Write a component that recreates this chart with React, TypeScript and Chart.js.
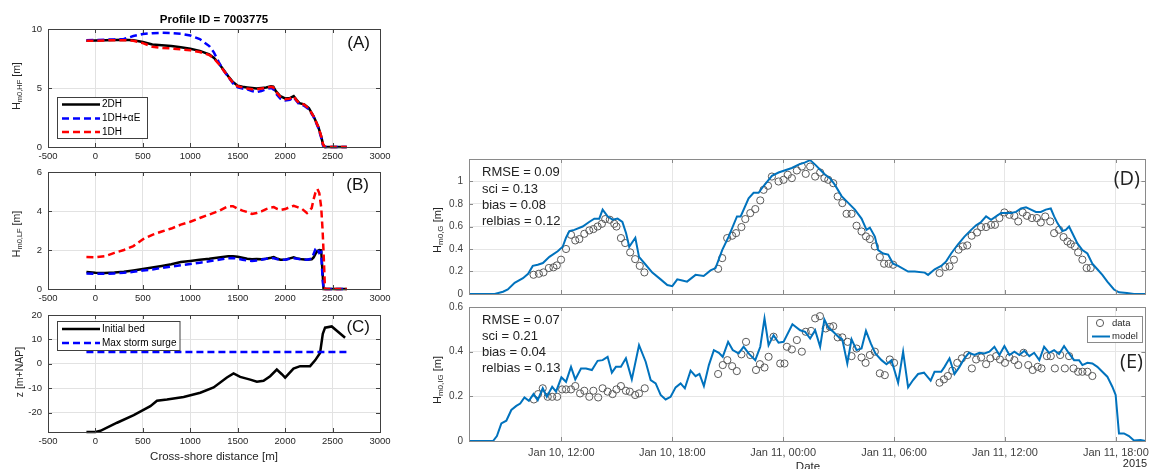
import React, { useEffect, useRef } from 'react';
import { Chart, registerables } from 'chart.js';

Chart.register(...registerables);

const FONT = '"Liberation Sans", Arial, Helvetica, sans-serif';
Chart.defaults.font.family = FONT;

// ---------------- Panel A: Hm0,HF vs cross-shore distance ----------------
const distA = [-95, 0, 100, 200, 300, 400, 500, 600, 700, 800, 900, 1000, 1100, 1200, 1250, 1300, 1350, 1400, 1450, 1500, 1550, 1600, 1650, 1700, 1750, 1800, 1850, 1875, 1900, 1950, 2000, 2050, 2090, 2120, 2150, 2200, 2250, 2300, 2350, 2380, 2400, 2420, 2500, 2650];
const hf2DH = [9.0, 9.02, 9.05, 9.07, 9.08, 9.05, 8.9, 8.68, 8.62, 8.55, 8.45, 8.33, 8.15, 7.85, 7.55, 7.1, 6.55, 6.0, 5.5, 5.2, 5.1, 5.05, 5.0, 4.95, 5.0, 5.05, 5.15, 5.12, 4.75, 4.3, 4.12, 4.15, 4.32, 4.0, 3.72, 3.62, 3.3, 2.6, 1.7, 0.9, 0.2, 0, 0, 0];
const hf1DHaE = [9.05, 9.07, 9.1, 9.12, 9.15, 9.4, 9.58, 9.65, 9.68, 9.66, 9.6, 9.45, 9.15, 8.55, 8.0, 7.2, 6.5, 5.95, 5.4, 5.05, 4.95, 4.9, 4.75, 4.65, 4.75, 4.9, 5.0, 4.9, 4.55, 4.1, 3.95, 4.0, 4.2, 3.9, 3.6, 3.5, 3.2, 2.55, 1.6, 0.8, 0.1, 0, 0, 0];
const hf1DH = [9.0, 9.0, 9.03, 9.05, 9.05, 9.0, 8.8, 8.5, 8.4, 8.35, 8.28, 8.2, 8.05, 7.8, 7.5, 7.05, 6.5, 5.95, 5.45, 5.15, 5.05, 4.95, 4.9, 4.88, 4.95, 5.0, 5.1, 5.05, 4.7, 4.25, 4.05, 4.1, 4.3, 3.95, 3.7, 3.6, 3.25, 2.6, 1.7, 0.9, 0.2, 0, 0, 0];

// ---------------- Panel B: Hm0,LF ----------------
const distB = [-95, 0, 100, 200, 300, 400, 500, 600, 700, 800, 900, 1000, 1100, 1200, 1300, 1400, 1450, 1500, 1550, 1600, 1650, 1700, 1750, 1800, 1850, 1880, 1920, 1950, 2000, 2050, 2090, 2130, 2180, 2230, 2280, 2300, 2320, 2340, 2360, 2380, 2395, 2405, 2420, 2500, 2650];
const lf2DH = [0.87, 0.83, 0.82, 0.84, 0.88, 0.95, 1.03, 1.1, 1.18, 1.27, 1.38, 1.44, 1.5, 1.55, 1.62, 1.68, 1.68, 1.65, 1.6, 1.55, 1.52, 1.54, 1.53, 1.55, 1.6, 1.64, 1.55, 1.5, 1.5, 1.57, 1.62, 1.56, 1.52, 1.5, 1.52, 1.62, 1.8, 1.95, 2.0, 1.98, 0.8, 0, 0, 0, 0];
const lf1DHaE = [0.79, 0.78, 0.78, 0.8, 0.83, 0.88, 0.95, 1.0, 1.08, 1.15, 1.22, 1.28, 1.35, 1.42, 1.5, 1.58, 1.59, 1.55, 1.5, 1.47, 1.44, 1.46, 1.5, 1.55, 1.58, 1.58, 1.52, 1.5, 1.5, 1.55, 1.58, 1.55, 1.52, 1.5, 1.55, 1.8, 2.05, 2.1, 1.85, 1.9, 0.5, 0, 0, 0, 0];
const lf1DH = [1.64, 1.63, 1.68, 1.85, 2.0, 2.2, 2.55, 2.78, 2.95, 3.1, 3.3, 3.45, 3.64, 3.82, 4.0, 4.25, 4.25, 4.12, 4.02, 3.95, 3.85, 3.9, 3.98, 4.1, 4.18, 4.2, 4.1, 4.05, 4.1, 4.2, 4.27, 4.2, 4.1, 3.9, 4.15, 4.6, 4.95, 5.13, 4.92, 4.2, 3.0, 1.9, 0, 0, 0];

// ---------------- Panel C: bed level ----------------
const distBed = [-95, 0, 53, 228, 404, 579, 649, 754, 930, 1105, 1246, 1386, 1456, 1526, 1632, 1702, 1772, 1842, 1912, 1965, 2000, 2088, 2158, 2263, 2316, 2368, 2397, 2421, 2491, 2632];
const zBed = [-28.0, -28.0, -27.5, -24.2, -21.1, -17.4, -15.2, -14.7, -13.6, -11.9, -9.75, -5.66, -4.0, -5.4, -6.5, -7.4, -7.0, -5.1, -2.4, -4.3, -5.7, -2.0, -1.0, -1.0, 1.4, 4.4, 12.3, 14.8, 15.3, 10.7];
const distSurge = [-95, 2650];
const zSurge = [4.8, 4.8];

const distTicks = [-500, 0, 500, 1000, 1500, 2000, 2500, 3000];
const ticksA = [0, 5, 10];
const ticksB = [0, 2, 4, 6];
const ticksC = [-20, -10, 0, 10, 20];

// ---------------- Panel D: Hm0,G time series (hours since Jan 10 00:00) ----------------
const modelTimeD = [7.0, 8.39, 8.84, 9.1, 9.47, 9.92, 10.2, 10.45, 10.72, 11.0, 11.35, 11.8, 12.07, 12.25, 12.43, 12.7, 13.15, 13.5, 13.78, 14.05, 14.23, 14.5, 14.77, 15.04, 15.3, 15.5, 15.67, 16.0, 16.2, 16.56, 16.92, 17.37, 17.73, 18.0, 18.27, 18.54, 18.8, 19.26, 19.7, 20.07, 20.34, 20.7, 21.05, 21.5, 21.7, 22.13, 22.4, 22.67, 22.94, 23.39, 23.75, 24.11, 24.47, 24.83, 25.19, 25.46, 25.73, 26.03, 26.27, 26.53, 26.8, 27.16, 27.52, 27.88, 28.24, 28.51, 28.69, 28.96, 29.14, 29.41, 29.68, 29.95, 30.22, 30.76, 31.12, 31.66, 31.84, 32.2, 32.55, 32.82, 33.09, 33.45, 33.81, 34.17, 34.44, 34.71, 34.98, 35.25, 35.52, 35.79, 36.06, 36.33, 36.6, 36.87, 37.14, 37.41, 37.67, 37.94, 38.21, 38.48, 38.66, 38.84, 39.11, 39.29, 39.47, 39.65, 39.92, 40.19, 40.46, 40.73, 41.0, 41.27, 41.54, 41.9, 42.17, 42.6, 42.98, 43.6];
const modelHsD = [0, 0, 0.02, 0.04, 0.1, 0.14, 0.18, 0.25, 0.26, 0.275, 0.33, 0.38, 0.42, 0.5, 0.56, 0.57, 0.6, 0.64, 0.67, 0.67, 0.75, 0.69, 0.66, 0.67, 0.64, 0.54, 0.42, 0.5, 0.33, 0.26, 0.19, 0.13, 0.08, 0.07, 0.13, 0.12, 0.11, 0.17, 0.16, 0.21, 0.23, 0.39, 0.51, 0.69, 0.69, 0.85, 0.9, 0.9, 0.96, 1.05, 1.08, 1.1, 1.12, 1.15, 1.17, 1.19, 1.15, 1.1, 1.06, 1.03, 0.97, 0.87, 0.81, 0.75, 0.67, 0.57, 0.59, 0.51, 0.39, 0.36, 0.35, 0.27, 0.25, 0.2, 0.2, 0.19, 0.17, 0.22, 0.25, 0.29, 0.36, 0.44, 0.51, 0.57, 0.61, 0.64, 0.69, 0.66, 0.69, 0.72, 0.72, 0.72, 0.73, 0.76, 0.77, 0.75, 0.73, 0.73, 0.75, 0.76, 0.69, 0.63, 0.56, 0.57, 0.6, 0.54, 0.45, 0.39, 0.36, 0.27, 0.22, 0.17, 0.11, 0.04, 0.015, 0.008, 0, 0];
const dataTimeD = [10.49, 10.78, 11.03, 11.32, 11.57, 11.75, 11.98, 12.25, 12.52, 12.75, 12.97, 13.24, 13.51, 13.73, 13.96, 14.19, 14.37, 14.62, 14.86, 14.98, 15.22, 15.45, 15.72, 15.99, 16.24, 16.49,
  20.48, 20.7, 20.97, 21.24, 21.45, 21.74, 21.95, 22.22, 22.49, 22.76, 22.94, 23.18, 23.39, 23.75, 24.02, 24.25, 24.47, 24.74, 25.01, 25.22, 25.46, 25.73, 26.0, 26.23, 26.44, 26.71, 26.95, 27.2, 27.43, 27.7, 27.97, 28.24, 28.48, 28.69, 28.96, 29.23, 29.46, 29.71, 29.95,
  32.46, 32.77, 33.0, 33.24, 33.49, 33.72, 33.96, 34.2, 34.49, 34.71, 34.98, 35.25, 35.46, 35.7, 35.97, 36.24, 36.51, 36.72, 36.96, 37.19, 37.46, 37.73, 37.94, 38.18, 38.45, 38.66, 38.93, 39.17, 39.38, 39.56, 39.78, 39.96, 40.19, 40.42, 40.64];
const dataHsD = [0.171, 0.18, 0.192, 0.231, 0.237, 0.254, 0.305, 0.4, 0.526, 0.476, 0.488, 0.535, 0.565, 0.577, 0.6, 0.624, 0.666, 0.66, 0.624, 0.6, 0.497, 0.453, 0.37, 0.31, 0.25, 0.192,
  0.224, 0.319, 0.497, 0.518, 0.541, 0.595, 0.666, 0.719, 0.755, 0.832, 0.926, 0.962, 1.044, 1.0, 1.015, 1.06, 1.03, 1.098, 1.133, 1.068, 1.133, 1.044, 1.08, 1.03, 1.015, 0.985, 0.867, 0.808, 0.713, 0.713, 0.607, 0.556, 0.512, 0.488, 0.423, 0.328, 0.269, 0.269, 0.26,
  0.186, 0.24, 0.245, 0.305, 0.394, 0.423, 0.432, 0.518, 0.547, 0.595, 0.595, 0.615, 0.615, 0.675, 0.725, 0.704, 0.695, 0.645, 0.725, 0.695, 0.675, 0.675, 0.636, 0.689, 0.645, 0.541, 0.571, 0.506, 0.467, 0.444, 0.423, 0.37, 0.305, 0.231, 0.231];

// ---------------- Panel E: Hm0,IG time series ----------------
const modelTimeE = [7.0, 8.3, 8.51, 8.75, 9.02, 9.29, 9.56, 9.77, 10.0, 10.24, 10.49, 10.72, 10.99, 11.21, 11.5, 11.71, 12.0, 12.25, 12.52, 12.75, 13.06, 13.33, 13.65, 13.96, 14.23, 14.5, 14.73, 14.95, 15.22, 15.49, 15.81, 16.2, 16.56, 16.83, 17.1, 17.37, 17.64, 17.91, 18.18, 18.45, 18.68, 18.99, 19.26, 19.47, 19.71, 19.98, 20.25, 20.52, 20.73, 21.02, 21.27, 21.59, 21.86, 22.13, 22.49, 22.76, 22.99, 23.21, 23.48, 23.75, 24.02, 24.5, 24.92, 25.19, 25.46, 25.73, 26.0, 26.23, 26.44, 26.71, 26.98, 27.2, 27.47, 27.7, 27.97, 28.24, 28.48, 28.74, 28.99, 29.32, 29.59, 29.86, 30.22, 30.49, 30.76, 31.03, 31.3, 31.62, 31.98, 32.19, 32.55, 32.73, 33.0, 33.27, 33.54, 33.81, 34.05, 34.35, 34.62, 34.89, 35.16, 35.43, 35.7, 35.97, 36.24, 36.51, 36.78, 37.05, 37.32, 37.58, 37.86, 38.12, 38.39, 38.66, 38.93, 39.2, 39.47, 39.74, 40.01, 40.19, 40.46, 40.73, 41.0, 41.27, 41.54, 41.81, 41.99, 42.17, 42.44, 42.71, 42.98, 43.34, 43.6];
const modelHsE = [0, 0, 0.022, 0.079, 0.091, 0.139, 0.157, 0.168, 0.195, 0.18, 0.21, 0.183, 0.236, 0.198, 0.243, 0.221, 0.285, 0.265, 0.332, 0.276, 0.325, 0.325, 0.318, 0.359, 0.362, 0.377, 0.306, 0.332, 0.332, 0.37, 0.276, 0.429, 0.355, 0.273, 0.258, 0.206, 0.186, 0.198, 0.24, 0.258, 0.236, 0.315, 0.29, 0.3, 0.246, 0.34, 0.407, 0.395, 0.377, 0.444, 0.407, 0.392, 0.422, 0.392, 0.362, 0.422, 0.549, 0.429, 0.474, 0.44, 0.444, 0.523, 0.496, 0.489, 0.459, 0.496, 0.422, 0.544, 0.508, 0.489, 0.467, 0.455, 0.347, 0.455, 0.407, 0.414, 0.493, 0.437, 0.392, 0.362, 0.344, 0.362, 0.261, 0.4, 0.24, 0.273, 0.3, 0.306, 0.27, 0.31, 0.31, 0.332, 0.37, 0.3, 0.332, 0.37, 0.395, 0.385, 0.395, 0.392, 0.4, 0.422, 0.385, 0.425, 0.385, 0.4, 0.385, 0.404, 0.38, 0.395, 0.362, 0.422, 0.395, 0.407, 0.389, 0.425, 0.392, 0.362, 0.362, 0.34, 0.35, 0.347, 0.332, 0.31, 0.288, 0.243, 0.206, 0.034, 0.034, 0.022, 0.002, 0.004, 0];
const dataTimeE = [10.51, 10.74, 10.99, 11.26, 11.5, 11.77, 12.04, 12.25, 12.52, 12.75, 13.01, 13.24, 13.51, 13.73, 13.99, 14.23, 14.5, 14.77, 14.98, 15.22, 15.49, 15.7, 15.99, 16.2, 16.51,
  20.48, 20.73, 20.98, 21.24, 21.49, 21.74, 21.99, 22.22, 22.53, 22.74, 22.99, 23.21, 23.48, 23.84, 24.07, 24.2, 24.47, 24.74, 25.01, 25.22, 25.51, 25.73, 25.99, 26.3, 26.53, 26.71, 26.95, 27.2, 27.49, 27.7, 27.97, 28.24, 28.46, 28.69, 28.96, 29.23, 29.5, 29.77, 30.0,
  32.46, 32.7, 32.91, 33.15, 33.42, 33.67, 33.96, 34.21, 34.44, 34.71, 34.98, 35.21, 35.52, 35.73, 36.0, 36.24, 36.51, 36.72, 37.01, 37.26, 37.5, 37.77, 37.98, 38.27, 38.48, 38.7, 38.99, 39.24, 39.47, 39.71, 39.96, 40.19, 40.46, 40.73];
const dataHsE = [0.186, 0.21, 0.236, 0.198, 0.198, 0.198, 0.231, 0.231, 0.231, 0.246, 0.213, 0.225, 0.198, 0.225, 0.195, 0.236, 0.221, 0.21, 0.231, 0.246, 0.225, 0.221, 0.206, 0.213, 0.236,
  0.3, 0.34, 0.362, 0.335, 0.313, 0.388, 0.444, 0.385, 0.318, 0.344, 0.329, 0.377, 0.467, 0.347, 0.347, 0.422, 0.41, 0.452, 0.4, 0.489, 0.493, 0.549, 0.559, 0.504, 0.511, 0.514, 0.464, 0.464, 0.444, 0.38, 0.414, 0.374, 0.35, 0.385, 0.4, 0.303, 0.295, 0.365, 0.35,
  0.261, 0.276, 0.291, 0.315, 0.35, 0.37, 0.385, 0.325, 0.365, 0.374, 0.344, 0.37, 0.38, 0.365, 0.35, 0.374, 0.362, 0.34, 0.395, 0.34, 0.318, 0.332, 0.325, 0.38, 0.38, 0.325, 0.385, 0.325, 0.38, 0.325, 0.31, 0.31, 0.31, 0.291];

const timeTicks = [12, 18, 24, 30, 36, 42];
const timeTickLabels = ['Jan 10, 12:00', 'Jan 10, 18:00', 'Jan 11, 00:00', 'Jan 11, 06:00', 'Jan 11, 12:00', 'Jan 11, 18:00'];
const ticksD = [0, 0.2, 0.4, 0.6, 0.8, 1];
const ticksE = [0, 0.2, 0.4, 0.6];
const statsD = ['RMSE = 0.09', 'sci = 0.13', 'bias = 0.08', 'relbias = 0.12'];
const statsE = ['RMSE = 0.07', 'sci = 0.21', 'bias = 0.04', 'relbias = 0.13'];

// ---------------- helpers ----------------
const pts = (xs: number[], ys: number[]) => xs.map((x, i) => ({ x, y: ys[i] }));

type Part = { t: string; font: string; dy?: number };

function drawRich(ctx: CanvasRenderingContext2D, x: number, y: number, parts: Part[], rotate: boolean, color = '#262626') {
  ctx.save();
  ctx.translate(x, y);
  if (rotate) ctx.rotate(-Math.PI / 2);
  ctx.textBaseline = 'middle';
  ctx.textAlign = 'left';
  ctx.fillStyle = color;
  let total = 0;
  for (const p of parts) { ctx.font = p.font; total += ctx.measureText(p.t).width; }
  let cx = -total / 2;
  for (const p of parts) {
    ctx.font = p.font;
    ctx.fillText(p.t, cx, p.dy || 0);
    cx += ctx.measureText(p.t).width;
  }
  ctx.restore();
}

function txt(ctx: CanvasRenderingContext2D, s: string, x: number, y: number, font: string, align: CanvasTextAlign = 'left', baseline: CanvasTextBaseline = 'middle', color = '#262626') {
  ctx.save();
  ctx.font = font;
  ctx.textAlign = align;
  ctx.textBaseline = baseline;
  ctx.fillStyle = color;
  ctx.fillText(s, x, y);
  ctx.restore();
}

function seg(ctx: CanvasRenderingContext2D, x1: number, y1: number, x2: number, y2: number, color: string, w: number, dash: number[] = []) {
  ctx.save();
  ctx.strokeStyle = color;
  ctx.lineWidth = w;
  ctx.setLineDash(dash);
  ctx.beginPath();
  ctx.moveTo(x1, y1);
  ctx.lineTo(x2, y2);
  ctx.stroke();
  ctx.restore();
}

function legendBox(ctx: CanvasRenderingContext2D, x: number, y: number, w: number, h: number, color: string) {
  ctx.save();
  ctx.fillStyle = '#ffffff';
  ctx.fillRect(x, y, w, h);
  ctx.strokeStyle = color;
  ctx.lineWidth = 1;
  ctx.strokeRect(x, y, w, h);
  ctx.restore();
}

interface Spec {
  L: number; T: number; R: number; B: number;
  pt: number; pr: number; yw: number; xh: number;
  xMin: number; xMax: number; xTicks: number[]; xLabel: (v: number) => string | string[];
  showXLabels: boolean; xFont: number; xPad: number;
  yMin: number; yMax: number; yTicks: number[]; yFont: number; yPad: number;
  axisColor: string; tickColor: string; gridColor: string; tickLen: number;
  datasets: any[];
  deco: (ctx: CanvasRenderingContext2D) => void;
}

const BLUE = '#0000ff';
const RED = '#ff0000';
const MODEL = '#0072BD';
const DASH = [7, 4];

const lineDs = (xs: number[], ys: number[], color: string, dash: number[], width = 2.5) => ({
  data: pts(xs, ys), showLine: true, borderColor: color, borderWidth: width, borderDash: dash,
  pointRadius: 0, pointHoverRadius: 0, clip: false, tension: 0, fill: false,
});
const circleDs = (xs: number[], ys: number[]) => ({
  data: pts(xs, ys), showLine: false, pointStyle: 'circle', pointRadius: 3.6, pointBorderWidth: 1,
  pointBorderColor: '#5a5a5a', pointBackgroundColor: 'rgba(0,0,0,0)', pointHoverRadius: 3.6, clip: false,
});

const LEFT_COMMON = {
  L: 48, R: 380, pr: 22, yw: 48,
  xMin: -500, xMax: 3000, xTicks: distTicks, xLabel: (v: number) => String(v),
  showXLabels: true, xFont: 9.5, xPad: 4, yFont: 9.5, yPad: 6,
  axisColor: '#404040', tickColor: '#262626', gridColor: '#e2e2e2', tickLen: 4,
};
const RIGHT_COMMON = {
  L: 469, R: 1148, pr: 2, yw: 49,
  xMin: 7, xMax: 43.6, xTicks: timeTicks, xLabel: (v: number) => timeTickLabels[timeTicks.indexOf(v)] || '',
  xFont: 11, xPad: 5, yFont: 10, yPad: 6,
  axisColor: '#8a8a8a', tickColor: '#404040', gridColor: '#e6e6e6', tickLen: 4,
};

const specA: Spec = {
  ...LEFT_COMMON, T: 29, B: 147, pt: 29, xh: 22,
  yMin: 0, yMax: 10, yTicks: ticksA,
  datasets: [lineDs(distA, hf1DH, RED, DASH), lineDs(distA, hf1DHaE, BLUE, DASH), lineDs(distA, hf2DH, '#000', [])],
  deco: (ctx) => {
    txt(ctx, 'Profile ID = 7003775', 214, 20, `bold 11.5px ${FONT}`, 'center', 'middle', '#000');
    txt(ctx, '(A)', 370, 43, `17px ${FONT}`, 'right', 'middle', '#111');
    legendBox(ctx, 57.5, 97.5, 90, 41, '#404040');
    seg(ctx, 62, 104.5, 100, 104.5, '#000', 2.5);
    seg(ctx, 62, 118.5, 100, 118.5, BLUE, 2.5, DASH);
    seg(ctx, 62, 132, 100, 132, RED, 2.5, DASH);
    txt(ctx, '2DH', 102, 104.5, `10px ${FONT}`, 'left', 'middle', '#000');
    txt(ctx, '1DH+αE', 102, 118.5, `10px ${FONT}`, 'left', 'middle', '#000');
    txt(ctx, '1DH', 102, 132, `10px ${FONT}`, 'left', 'middle', '#000');
    drawRich(ctx, 17, 86, [
      { t: 'H', font: `10.5px ${FONT}` },
      { t: 'm0,HF', font: `7.5px ${FONT}`, dy: 3 },
      { t: ' [m]', font: `10.5px ${FONT}` },
    ], true);
  },
};

const specB: Spec = {
  ...LEFT_COMMON, T: 172, B: 289, pt: 6, xh: 22,
  yMin: 0, yMax: 6, yTicks: ticksB,
  datasets: [lineDs(distB, lf1DH, RED, DASH), lineDs(distB, lf1DHaE, BLUE, DASH), lineDs(distB, lf2DH, '#000', [])],
  deco: (ctx) => {
    txt(ctx, '(B)', 369, 185, `17px ${FONT}`, 'right', 'middle', '#111');
    drawRich(ctx, 17, 234, [
      { t: 'H', font: `10.5px ${FONT}` },
      { t: 'm0,LF', font: `7.5px ${FONT}`, dy: 3 },
      { t: ' [m]', font: `10.5px ${FONT}` },
    ], true);
  },
};

const specC: Spec = {
  ...LEFT_COMMON, T: 315, B: 432, pt: 6, xh: 37,
  yMin: -28, yMax: 20, yTicks: ticksC,
  datasets: [lineDs(distSurge, zSurge, BLUE, DASH), lineDs(distBed, zBed, '#000', [])],
  deco: (ctx) => {
    txt(ctx, '(C)', 370, 327, `17px ${FONT}`, 'right', 'middle', '#111');
    legendBox(ctx, 57.5, 321.5, 122.5, 29, '#404040');
    seg(ctx, 62, 329, 100, 329, '#000', 2.5);
    seg(ctx, 62, 343, 100, 343, BLUE, 2.5, DASH);
    txt(ctx, 'Initial bed', 102, 329, `10px ${FONT}`, 'left', 'middle', '#000');
    txt(ctx, 'Max storm surge', 102, 343, `10px ${FONT}`, 'left', 'middle', '#000');
    drawRich(ctx, 20, 372, [{ t: 'z [m+NAP]', font: `10.5px ${FONT}` }], true);
    txt(ctx, 'Cross-shore distance [m]', 214, 457, `11.5px ${FONT}`, 'center', 'middle', '#262626');
  },
};

const specD: Spec = {
  ...RIGHT_COMMON, T: 159, B: 294, pt: 6, xh: 10, showXLabels: false,
  yMin: 0, yMax: 1.2, yTicks: ticksD,
  datasets: [lineDs(modelTimeD, modelHsD, MODEL, [], 2), circleDs(dataTimeD, dataHsD)],
  deco: (ctx) => {
    statsD.forEach((s, i) => txt(ctx, s, 482, 172.7 + i * 16.3, `13px ${FONT}`, 'left', 'middle', '#222'));
    txt(ctx, '(D)', 1140, 179, `20px "Open Sans", ${FONT}`, 'right', 'middle', '#222');
    drawRich(ctx, 438, 230, [
      { t: 'H', font: `11px ${FONT}` },
      { t: 'm0,G', font: `8px ${FONT}`, dy: 3 },
      { t: ' [m]', font: `11px ${FONT}` },
    ], true);
  },
};

const specE: Spec = {
  ...RIGHT_COMMON, T: 307, B: 441, pt: 6, xh: 28, showXLabels: true,
  yMin: 0, yMax: 0.6, yTicks: ticksE,
  datasets: [lineDs(modelTimeE, modelHsE, MODEL, [], 2), circleDs(dataTimeE, dataHsE)],
  deco: (ctx) => {
    statsE.forEach((s, i) => txt(ctx, s, 482, 320 + i * 16.3, `13px ${FONT}`, 'left', 'middle', '#222'));
    txt(ctx, '(E)', 1120, 362, `20px "Open Sans", ${FONT}`, 'left', 'middle', '#222');
    legendBox(ctx, 1087.5, 316.5, 55, 26, '#8a8a8a');
    ctx.save();
    ctx.strokeStyle = '#5a5a5a';
    ctx.lineWidth = 1;
    ctx.beginPath();
    ctx.arc(1100, 323, 3.6, 0, Math.PI * 2);
    ctx.stroke();
    ctx.restore();
    seg(ctx, 1092, 336.5, 1110, 336.5, MODEL, 2);
    txt(ctx, 'data', 1112, 323, `9.5px ${FONT}`, 'left', 'middle', '#262626');
    txt(ctx, 'model', 1112, 336.5, `9.5px ${FONT}`, 'left', 'middle', '#262626');
    drawRich(ctx, 438, 380, [
      { t: 'H', font: `11px ${FONT}` },
      { t: 'm0,IG', font: `8px ${FONT}`, dy: 3 },
      { t: ' [m]', font: `11px ${FONT}` },
    ], true);
    txt(ctx, 'Date', 808, 461, `11.5px ${FONT}`, 'center', 'top', '#262626');
    txt(ctx, '2015', 1135, 463.5, `11px ${FONT}`, 'center', 'middle', '#262626');
  },
};

const SPECS = [specA, specB, specC, specD, specE];

function makeChart(canvas: HTMLCanvasElement, s: Spec) {
  const left = s.L - s.yw;
  const top = s.T - s.pt;
  const deco = {
    id: 'deco',
    afterDraw(chart: any) {
      const ctx: CanvasRenderingContext2D = chart.ctx;
      const ca = chart.chartArea;
      const xs = chart.scales.x;
      const ys = chart.scales.y;
      ctx.save();
      ctx.strokeStyle = s.axisColor;
      ctx.lineWidth = 1;
      ctx.beginPath();
      for (const v of s.xTicks) {
        const px = Math.round(xs.getPixelForValue(v)) + 0.5;
        ctx.moveTo(px, ca.bottom); ctx.lineTo(px, ca.bottom - s.tickLen);
        ctx.moveTo(px, ca.top); ctx.lineTo(px, ca.top + s.tickLen);
      }
      for (const v of s.yTicks) {
        const py = Math.round(ys.getPixelForValue(v)) + 0.5;
        ctx.moveTo(ca.left, py); ctx.lineTo(ca.left + s.tickLen, py);
        ctx.moveTo(ca.right, py); ctx.lineTo(ca.right - s.tickLen, py);
      }
      ctx.stroke();
      ctx.strokeRect(Math.round(ca.left) + 0.5, Math.round(ca.top) + 0.5, Math.round(ca.right - ca.left), Math.round(ca.bottom - ca.top));
      ctx.translate(-left, -top);
      s.deco(ctx);
      ctx.restore();
    },
  };
  return new Chart(canvas, {
    type: 'scatter',
    data: { datasets: s.datasets },
    options: {
      responsive: false,
      maintainAspectRatio: false,
      animation: false,
      events: [],
      layout: { padding: { left: 0, top: s.pt, right: s.pr, bottom: 0 } },
      plugins: { legend: { display: false }, tooltip: { enabled: false }, title: { display: false } },
      scales: {
        x: {
          type: 'linear', position: 'bottom', min: s.xMin, max: s.xMax,
          afterBuildTicks: (scale: any) => { scale.ticks = s.xTicks.map((v) => ({ value: v })); },
          afterFit: (scale: any) => {
            scale.height = s.xh;
            scale.paddingLeft = 0; scale.paddingRight = 0; scale.paddingTop = 0; scale.paddingBottom = 0;
          },
          grid: { color: s.gridColor, lineWidth: 1, drawTicks: false },
          border: { display: false },
          ticks: {
            display: s.showXLabels, autoSkip: false, maxRotation: 0, minRotation: 0,
            padding: s.xPad, color: s.tickColor, font: { family: FONT, size: s.xFont },
            callback: (v: any) => s.xLabel(Number(v)),
          },
        },
        y: {
          type: 'linear', position: 'left', min: s.yMin, max: s.yMax,
          afterBuildTicks: (scale: any) => { scale.ticks = s.yTicks.map((v) => ({ value: v })); },
          afterFit: (scale: any) => {
            scale.width = s.yw;
            scale.paddingLeft = 0; scale.paddingRight = 0; scale.paddingTop = 0; scale.paddingBottom = 0;
          },
          grid: { color: s.gridColor, lineWidth: 1, drawTicks: false },
          border: { display: false },
          ticks: {
            autoSkip: false, padding: s.yPad, color: s.tickColor, font: { family: FONT, size: s.yFont },
            callback: (v: any) => String(Number(v)),
          },
        },
      },
    } as any,
    plugins: [deco],
  });
}

function PanelCanvas({ spec }: { spec: Spec }) {
  const ref = useRef<HTMLCanvasElement>(null);
  const left = spec.L - spec.yw;
  const top = spec.T - spec.pt;
  const w = spec.R - spec.L + spec.yw + spec.pr;
  const h = spec.B - spec.T + spec.pt + spec.xh;
  useEffect(() => {
    const chart = makeChart(ref.current as HTMLCanvasElement, spec);
    return () => chart.destroy();
  }, [spec]);
  return (
    <canvas
      ref={ref}
      width={w}
      height={h}
      style={{ position: 'absolute', left, top, width: w, height: h }}
    />
  );
}

export default function App() {
  return (
    <div style={{ position: 'fixed', left: 0, top: 0, width: 1150, height: 469, background: '#ffffff', overflow: 'hidden' }}>
      {SPECS.map((s, i) => <PanelCanvas key={i} spec={s} />)}
    </div>
  );
}
